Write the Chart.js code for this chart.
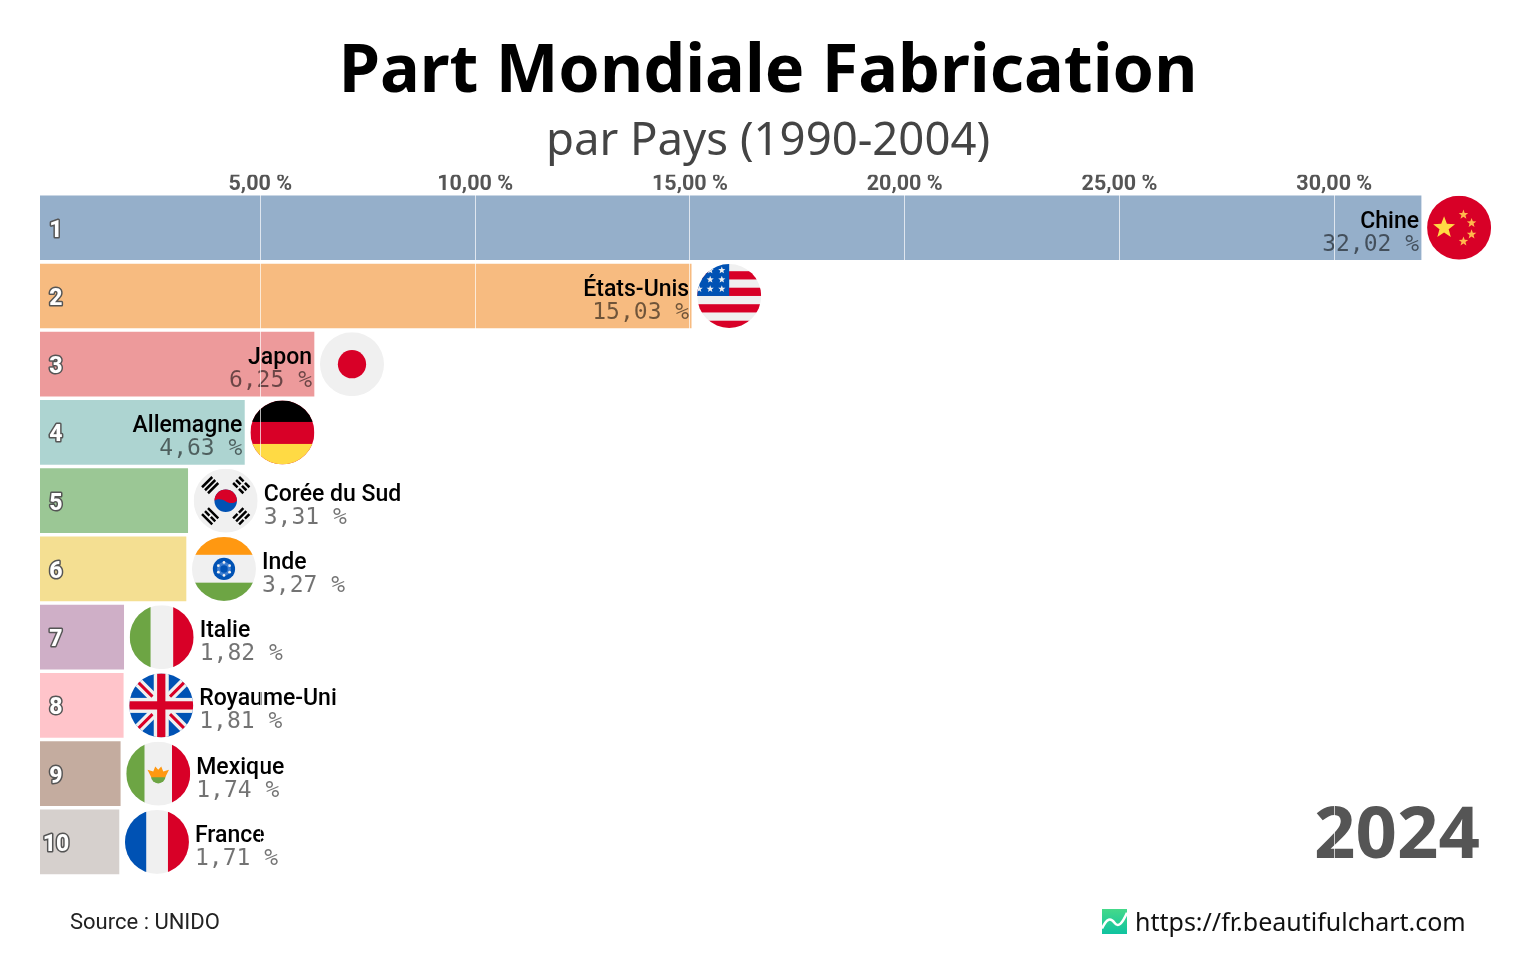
<!DOCTYPE html>
<html lang="fr">
<head>
<meta charset="utf-8">
<title>Part Mondiale Fabrication</title>
<script src="https://cdn.jsdelivr.net/npm/chart.js@4"></script>
<style>
    html, body { margin: 0; background: #fff; }
    canvas { display: block; }
</style>
</head>
<body>
<canvas id="chart1" width="1536" height="960"></canvas>
<script>
// données
const countries = ['Chine', 'États-Unis', 'Japon', 'Allemagne', 'Corée du Sud', 'Inde', 'Italie', 'Royaume-Uni', 'Mexique', 'France'];
const shares = [32.02, 15.03, 6.25, 4.63, 3.31, 3.27, 1.82, 1.81, 1.74, 1.71];
const barColors = ['#4e79a7', '#f28e2c', '#e15759', '#76b7b2', '#59a14f', '#edc949', '#af7aa1', '#ff9da7', '#9c755f', '#bab0ab'];
const tickValues = [5, 10, 15, 20, 25, 30];
const flagNames = ['cn', 'us', 'jp', 'de', 'kr', 'in', 'it', 'gb', 'mx', 'fr'];
const yearLabel = '2024';
const titleText = 'Part Mondiale Fabrication';
const subtitleText = 'par Pays (1990-2004)';
const sourceText = 'Source : UNIDO';
const siteText = 'https://fr.beautifulchart.com';

const axisMin = -0.128;
const axisMax = 33.764;
const insideFrom = 4; // au dessus de cette part le nom passe dans la barre

const RED = '#d80027', GREY = '#f0f0f0', BLUE = '#0052b4', GREEN = '#6da544', YELLOW = '#ffda44', ORANGE = '#ff9811';

function fmt(v) {
    return v.toFixed(2).replace('.', ',') + ' %';
}

function rect(ctx, color, x, y, w, h) {
    ctx.fillStyle = color;
    ctx.fillRect(x, y, w, h);
}

function star(ctx, color, x, y, r) {
    ctx.fillStyle = color;
    ctx.beginPath();
    for (let i = 0; i < 10; i++) {
        let a = -Math.PI / 2 + i * Math.PI / 5;
        let d = i % 2 ? r * 0.42 : r;
        ctx.lineTo(x + Math.cos(a) * d, y + Math.sin(a) * d);
    }
    ctx.closePath();
    ctx.fill();
}

function disc(ctx, color, x, y, r) {
    ctx.fillStyle = color;
    ctx.beginPath();
    ctx.arc(x, y, r, 0, Math.PI * 2);
    ctx.fill();
}

// drapeaux ronds, repère de -256 à 256
const flags = {
    cn: function(ctx) {
        rect(ctx, RED, -256, -256, 512, 512);
        star(ctx, YELLOW, -120, 0, 92);
        star(ctx, '#ffb84d', 35, -105, 40);
        star(ctx, '#ffb84d', 100, -38, 40);
        star(ctx, '#ffb84d', 100, 53, 40);
        star(ctx, '#ffb84d', 35, 110, 40);
    },
    us: function(ctx) {
        rect(ctx, GREY, -256, -256, 512, 512);
        [-198, -66, 66, 198].forEach(function(y) { rect(ctx, RED, -256, y, 512, 66); });
        rect(ctx, BLUE, -256, -256, 256, 256);
        [[-59, -205], [-152, -205], [-59, -131], [-152, -131], [-59, -56], [-152, -56], [-240, -56]].forEach(function(p) {
            star(ctx, GREY, p[0], p[1], 30);
        });
    },
    jp: function(ctx) {
        rect(ctx, GREY, -256, -256, 512, 512);
        disc(ctx, RED, 0, 0, 113);
    },
    de: function(ctx) {
        rect(ctx, RED, -256, -256, 512, 512);
        rect(ctx, '#000', -256, -256, 512, 172);
        rect(ctx, YELLOW, -256, 92, 512, 164);
    },
    kr: function(ctx) {
        rect(ctx, GREY, -256, -256, 512, 512);
        disc(ctx, BLUE, 0, 0, 90);
        ctx.fillStyle = RED;
        ctx.beginPath();
        ctx.arc(0, 0, 90, Math.PI, 0);
        ctx.bezierCurveTo(60, 30, 20, 20, 0, 5);
        ctx.bezierCurveTo(-20, -10, -60, -20, -90, 0);
        ctx.fill();
        // trigrammes
        [[45, [0, 1, 0]], [135, [1, 0, 1]], [225, [1, 1, 1]], [315, [0, 0, 0]]].forEach(function(t) {
            ctx.save();
            ctx.rotate(t[0] * Math.PI / 180);
            t[1].forEach(function(full, i) {
                let x = 132 + i * 34;
                if (full) {
                    rect(ctx, '#000', x, -58, 20, 116);
                } else {
                    rect(ctx, '#000', x, -58, 20, 50);
                    rect(ctx, '#000', x, 8, 20, 50);
                }
            });
            ctx.restore();
        });
    },
    in: function(ctx) {
        rect(ctx, GREY, -256, -256, 512, 512);
        rect(ctx, ORANGE, -256, -256, 512, 143);
        rect(ctx, GREEN, -256, 110, 512, 146);
        disc(ctx, BLUE, 0, 0, 89);
        disc(ctx, '#3f7fd0', 0, 0, 56);
        disc(ctx, BLUE, 0, 0, 30);
        for (let i = 0; i < 6; i++) {
            let a = i * Math.PI / 3 + Math.PI / 6;
            disc(ctx, GREY, Math.cos(a) * 52, Math.sin(a) * 52, 11);
        }
    },
    it: function(ctx) {
        rect(ctx, GREY, -256, -256, 512, 512);
        rect(ctx, GREEN, -256, -256, 167, 512);
        rect(ctx, RED, 92, -256, 164, 512);
    },
    gb: function(ctx) {
        rect(ctx, BLUE, -256, -256, 512, 512);
        ctx.strokeStyle = GREY;
        ctx.lineWidth = 76;
        ctx.beginPath();
        ctx.moveTo(-256, -256); ctx.lineTo(256, 256);
        ctx.moveTo(256, -256); ctx.lineTo(-256, 256);
        ctx.stroke();
        ctx.strokeStyle = RED;
        ctx.lineWidth = 24;
        ctx.beginPath();
        ctx.moveTo(-220, -220); ctx.lineTo(-70, -70);
        ctx.moveTo(220, -220); ctx.lineTo(70, -70);
        ctx.moveTo(-220, 220); ctx.lineTo(-70, 70);
        ctx.moveTo(220, 220); ctx.lineTo(70, 70);
        ctx.stroke();
        rect(ctx, GREY, -60, -256, 120, 512);
        rect(ctx, GREY, -256, -60, 512, 120);
        rect(ctx, RED, -33, -256, 66, 512);
        rect(ctx, RED, -256, -33, 512, 66);
    },
    mx: function(ctx) {
        rect(ctx, GREY, -256, -256, 512, 512);
        rect(ctx, GREEN, -256, -256, 146, 512);
        rect(ctx, RED, 110, -256, 146, 512);
        ctx.fillStyle = GREEN;
        ctx.beginPath();
        ctx.arc(0, 20, 58, 0, Math.PI);
        ctx.fill();
        ctx.fillStyle = ORANGE;
        ctx.beginPath();
        ctx.moveTo(-86, -32);
        ctx.lineTo(-40, -18);
        ctx.lineTo(-24, -58);
        ctx.lineTo(0, -32);
        ctx.lineTo(24, -58);
        ctx.lineTo(40, -18);
        ctx.lineTo(86, -32);
        ctx.lineTo(56, 28);
        ctx.lineTo(-56, 28);
        ctx.closePath();
        ctx.fill();
    },
    fr: function(ctx) {
        rect(ctx, GREY, -256, -256, 512, 512);
        rect(ctx, BLUE, -256, -256, 170, 512);
        rect(ctx, RED, 88, -256, 168, 512);
    }
};

function drawFlag(ctx, name, cx, cy, r) {
    ctx.save();
    ctx.translate(cx, cy);
    ctx.beginPath();
    ctx.arc(0, 0, r, 0, Math.PI * 2);
    ctx.clip();
    ctx.scale(r / 256, r / 256);
    flags[name](ctx);
    ctx.restore();
}

// logo du site à côté de l'url
function drawLogo(ctx, x, y, size) {
    let g = ctx.createLinearGradient(0, y, 0, y + size);
    g.addColorStop(0, '#45d98a');
    g.addColorStop(1, '#0fc3a0');
    rect(ctx, g, x, y, size, size);
    ctx.strokeStyle = '#fff';
    ctx.lineWidth = 2.5;
    ctx.beginPath();
    ctx.moveTo(x, y + size * 0.78);
    ctx.bezierCurveTo(x + size * 0.2, y + size * 0.35, x + size * 0.35, y + size * 0.35, x + size * 0.5, y + size * 0.55);
    ctx.bezierCurveTo(x + size * 0.65, y + size * 0.75, x + size * 0.8, y + size * 0.6, x + size, y + size * 0.15);
    ctx.stroke();
}

// drapeaux, noms, rangs : dessinés avant la grille qui passe par dessus
const labelPlugin = {
    id: 'labelPlugin',
    afterDatasetsDraw: function(chart) {
        const ctx = chart.ctx;
        const bars = chart.getDatasetMeta(0).data;
        ctx.save();
        bars.forEach(function(bar, i) {
            let top = bar.y - 32;
            drawFlag(ctx, flagNames[i], bar.x + 38, bar.y, 32);

            let inside = shares[i] > insideFrom;
            let tx = inside ? bar.x - 2 : bar.x + 76;
            ctx.textAlign = inside ? 'right' : 'left';
            ctx.textBaseline = 'alphabetic';
            ctx.font = '500 23px Roboto';
            ctx.fillStyle = '#000';
            ctx.fillText(countries[i], tx, top + 32);
            ctx.font = '23px "DejaVu Sans Mono"';
            ctx.fillStyle = 'rgba(0,0,0,0.55)';
            ctx.fillText(fmt(shares[i]), tx, top + 55);

            // rang
            ctx.textAlign = 'center';
            ctx.font = '800 23px Roboto';
            ctx.lineWidth = 3;
            ctx.lineJoin = 'round';
            ctx.strokeStyle = '#555';
            ctx.strokeText(String(i + 1), 56, top + 41);
            ctx.fillStyle = '#fff';
            ctx.fillText(String(i + 1), 56, top + 41);
        });

        ctx.textAlign = 'right';
        ctx.font = 'bold 72.5px "Noto Sans"';
        ctx.fillStyle = '#555';
        ctx.fillText(yearLabel, 1480, 858);

        ctx.textAlign = 'left';
        ctx.font = '22px Roboto';
        ctx.fillStyle = '#222';
        ctx.fillText(sourceText, 70, 929);
        ctx.font = '25px "Noto Sans"';
        ctx.fillStyle = '#111';
        ctx.fillText(siteText, 1135, 931);
        drawLogo(ctx, 1102, 909, 25);
        ctx.restore();
    }
};

new Chart(document.getElementById('chart1'), {
    type: 'bar',
    data: {
        labels: countries,
        datasets: [{
            data: shares,
            base: axisMin,
            backgroundColor: barColors.map(function(c) { return c + '99'; }),
            barThickness: 64
        }]
    },
    options: {
        indexAxis: 'y',
        responsive: false,
        animation: false,
        devicePixelRatio: 1,
        layout: { padding: { top: 0, left: 40, right: 40, bottom: 84 } },
        plugins: {
            legend: { display: false },
            tooltip: { enabled: false },
            title: {
                display: true,
                text: titleText,
                color: '#000',
                font: { family: '"Noto Sans"', size: 66.5, weight: 'bold', lineHeight: 1.1 },
                padding: { top: 36.5, bottom: 0 }
            },
            subtitle: {
                display: true,
                text: subtitleText,
                color: '#444',
                font: { family: '"Noto Sans"', size: 45.5, weight: 'normal', lineHeight: 1.1 },
                padding: { top: 7.5, bottom: 7.6 }
            }
        },
        scales: {
            x: {
                position: 'top',
                min: axisMin,
                max: axisMax,
                afterBuildTicks: function(axis) {
                    axis.ticks = tickValues.map(function(v) { return { value: v }; });
                },
                border: { display: false },
                grid: { color: 'rgba(255,255,255,0.7)', lineWidth: 1, drawTicks: false, z: 1 },
                ticks: {
                    autoSkip: false,
                    maxRotation: 0,
                    padding: -3.5,
                    color: '#555',
                    font: { family: 'Roboto', size: 21.5, weight: 'bold' },
                    z: 1,
                    callback: function(v) { return fmt(v); }
                }
            },
            y: {
                display: false,
                grid: { display: false }
            }
        }
    },
    plugins: [labelPlugin]
});
</script>
</body>
</html>
